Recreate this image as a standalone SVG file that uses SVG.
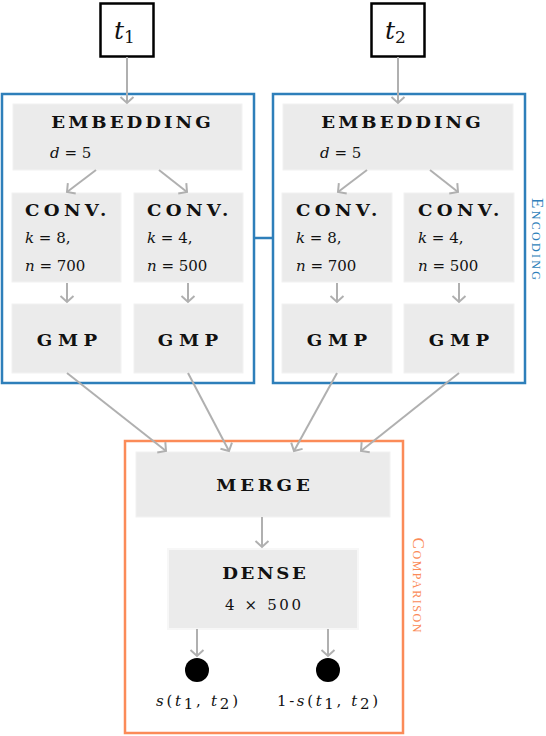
<svg xmlns="http://www.w3.org/2000/svg" width="546" height="736" viewBox="0 0 546 736">
<defs>
<marker id="ah" markerUnits="userSpaceOnUse" markerWidth="16" markerHeight="16" viewBox="-10 -8 12 16" refX="0" refY="0" orient="auto">
<path d="M-6,-6.5 L0,0 L-6,6.5" fill="none" stroke="#b0b0b0" stroke-width="2"/>
</marker>
</defs>
<style>
.blk{fill:#ebebeb;stroke:#f2f2f2;stroke-width:1}
.cap{font-family:"DejaVu Serif",serif;font-weight:bold;font-size:16.5px;fill:#111}
.mth{font-family:"DejaVu Serif",serif;font-style:italic;font-size:15px;fill:#111}
.num{font-family:"DejaVu Serif",serif;font-style:normal;font-size:15px;fill:#111}
.con{stroke:#b0b0b0;stroke-width:2;fill:none;marker-end:url(#ah)}
.enc{fill:none;stroke:#2e7fba;stroke-width:2.5}
.cmp{fill:none;stroke:#fb8b58;stroke-width:2.5}
.side{font-family:"Liberation Serif",serif;font-size:17px;font-variant:small-caps}
</style>
<rect width="546" height="736" fill="#fff"/>

<g id="encoding-left">
<rect class="enc" x="2" y="94" width="252" height="289"/>
</g>
<g id="encoding-right">
<rect class="enc" x="273" y="94" width="252" height="289"/>
</g>
<text class="side" x="0" y="0" transform="translate(532,239) rotate(90)" text-anchor="middle" fill="#2e7fba" textLength="82" lengthAdjust="spacing">Encoding</text>

<g id="comparison">
<rect class="cmp" x="125" y="441" width="278" height="292"/>
</g>
<text class="side" x="0" y="0" transform="translate(413,585) rotate(90)" text-anchor="middle" fill="#fb8b58" textLength="95" lengthAdjust="spacing">Comparison</text>

<g id="t1">
<rect x="100.5" y="3.5" width="53" height="53" fill="#fff" stroke="#000" stroke-width="2.5"/>
<text x="114" y="39" font-family="DejaVu Serif,serif" font-style="italic" font-size="25" fill="#111">t<tspan font-style="normal" font-size="17" dy="4">1</tspan></text>
</g>
<g id="t2">
<rect x="371.5" y="3.5" width="53" height="53" fill="#fff" stroke="#000" stroke-width="2.5"/>
<text x="385" y="39" font-family="DejaVu Serif,serif" font-style="italic" font-size="25" fill="#111">t<tspan font-style="normal" font-size="17" dy="4">2</tspan></text>
</g>

<g id="embedding1">
<rect class="blk" x="13" y="104" width="229" height="66"/>
<text class="cap" x="0" y="0" transform="translate(131,128) scale(1.1,1)" text-anchor="middle" textLength="145" lengthAdjust="spacing">EMBEDDING</text>
<text class="mth" x="50" y="158">d<tspan class="num"> = 5</tspan></text>
</g>
<g id="embedding2">
<rect class="blk" x="283" y="104" width="230" height="66"/>
<text class="cap" x="0" y="0" transform="translate(401,128) scale(1.1,1)" text-anchor="middle" textLength="145" lengthAdjust="spacing">EMBEDDING</text>
<text class="mth" x="320" y="158">d<tspan class="num"> = 5</tspan></text>
</g>

<g id="conv1a">
<rect class="blk" x="12" y="193" width="109" height="89"/>
<text class="cap" x="0" y="0" transform="translate(25,216) scale(1.1,1)" textLength="74" lengthAdjust="spacing">CONV.</text>
<text class="mth" x="25" y="243">k<tspan class="num"> = 8,</tspan></text>
<text class="mth" x="25" y="271">n<tspan class="num"> = 700</tspan></text>
</g>
<g id="conv1b">
<rect class="blk" x="134" y="193" width="109" height="89"/>
<text class="cap" x="0" y="0" transform="translate(147,216) scale(1.1,1)" textLength="74" lengthAdjust="spacing">CONV.</text>
<text class="mth" x="147" y="243">k<tspan class="num"> = 4,</tspan></text>
<text class="mth" x="147" y="271">n<tspan class="num"> = 500</tspan></text>
</g>
<g id="conv2a">
<rect class="blk" x="282" y="193" width="110" height="89"/>
<text class="cap" x="0" y="0" transform="translate(296,216) scale(1.1,1)" textLength="74" lengthAdjust="spacing">CONV.</text>
<text class="mth" x="296" y="243">k<tspan class="num"> = 8,</tspan></text>
<text class="mth" x="296" y="271">n<tspan class="num"> = 700</tspan></text>
</g>
<g id="conv2b">
<rect class="blk" x="404" y="193" width="110" height="89"/>
<text class="cap" x="0" y="0" transform="translate(418,216) scale(1.1,1)" textLength="74" lengthAdjust="spacing">CONV.</text>
<text class="mth" x="418" y="243">k<tspan class="num"> = 4,</tspan></text>
<text class="mth" x="418" y="271">n<tspan class="num"> = 500</tspan></text>
</g>

<g id="gmp1a">
<rect class="blk" x="12" y="304" width="109" height="69"/>
<text class="cap" x="0" y="0" transform="translate(67,346) scale(1.1,1)" text-anchor="middle" textLength="55" lengthAdjust="spacing">GMP</text>
</g>
<g id="gmp1b">
<rect class="blk" x="134" y="304" width="109" height="69"/>
<text class="cap" x="0" y="0" transform="translate(188,346) scale(1.1,1)" text-anchor="middle" textLength="55" lengthAdjust="spacing">GMP</text>
</g>
<g id="gmp2a">
<rect class="blk" x="282" y="304" width="110" height="69"/>
<text class="cap" x="0" y="0" transform="translate(337,346) scale(1.1,1)" text-anchor="middle" textLength="55" lengthAdjust="spacing">GMP</text>
</g>
<g id="gmp2b">
<rect class="blk" x="404" y="304" width="110" height="69"/>
<text class="cap" x="0" y="0" transform="translate(459,346) scale(1.1,1)" text-anchor="middle" textLength="55" lengthAdjust="spacing">GMP</text>
</g>

<g id="merge">
<rect class="blk" x="136" y="452" width="254" height="65"/>
<text class="cap" x="0" y="0" transform="translate(263,491) scale(1.1,1)" text-anchor="middle" textLength="85" lengthAdjust="spacing">MERGE</text>
</g>
<g id="dense">
<rect x="168" y="549" width="190" height="80" fill="#ebebeb" stroke="#f7f7f7" stroke-width="2"/>
<text class="cap" x="0" y="0" transform="translate(264,579) scale(1.1,1)" text-anchor="middle" textLength="76" lengthAdjust="spacing">DENSE</text>
<text class="num" x="263" y="610" text-anchor="middle" textLength="76" lengthAdjust="spacing">4 × 500</text>
</g>

<g id="out1">
<circle cx="197" cy="670" r="12" fill="#000"/>
<text class="mth" x="156" y="706" textLength="82" lengthAdjust="spacing">s<tspan class="num">(</tspan>t<tspan class="num" font-size="12" dy="3">1</tspan><tspan class="num" dy="-3">, </tspan>t<tspan class="num" font-size="12" dy="3">2</tspan><tspan class="num" dy="-3">)</tspan></text>
</g>
<g id="out2">
<circle cx="328" cy="670" r="12" fill="#000"/>
<text class="mth" x="277" y="706" textLength="101" lengthAdjust="spacing"><tspan class="num">1-</tspan>s<tspan class="num">(</tspan>t<tspan class="num" font-size="12" dy="3">1</tspan><tspan class="num" dy="-3">, </tspan>t<tspan class="num" font-size="12" dy="3">2</tspan><tspan class="num" dy="-3">)</tspan></text>
</g>

<g id="connectors">
<line x1="254" y1="238" x2="273" y2="238" stroke="#2e7fba" stroke-width="2.5"/>
<line class="con" x1="127" y1="57" x2="127" y2="103"/>
<line class="con" x1="398" y1="57" x2="398" y2="103"/>
<line class="con" x1="96" y1="170" x2="67" y2="192"/>
<line class="con" x1="159" y1="170" x2="187" y2="192"/>
<line class="con" x1="367" y1="170" x2="338" y2="192"/>
<line class="con" x1="430" y1="170" x2="458" y2="192"/>
<line class="con" x1="67" y1="283" x2="67" y2="302"/>
<line class="con" x1="188" y1="283" x2="188" y2="302"/>
<line class="con" x1="337" y1="283" x2="337" y2="302"/>
<line class="con" x1="459" y1="283" x2="459" y2="302"/>
<line class="con" x1="67" y1="373" x2="166" y2="451"/>
<line class="con" x1="188" y1="373" x2="229" y2="451"/>
<line class="con" x1="337" y1="373" x2="294" y2="451"/>
<line class="con" x1="459" y1="373" x2="361" y2="451"/>
<line class="con" x1="262" y1="517" x2="262" y2="547"/>
<line class="con" x1="197" y1="629" x2="197" y2="656"/>
<line class="con" x1="328" y1="629" x2="328" y2="656"/>
</g>
</svg>
